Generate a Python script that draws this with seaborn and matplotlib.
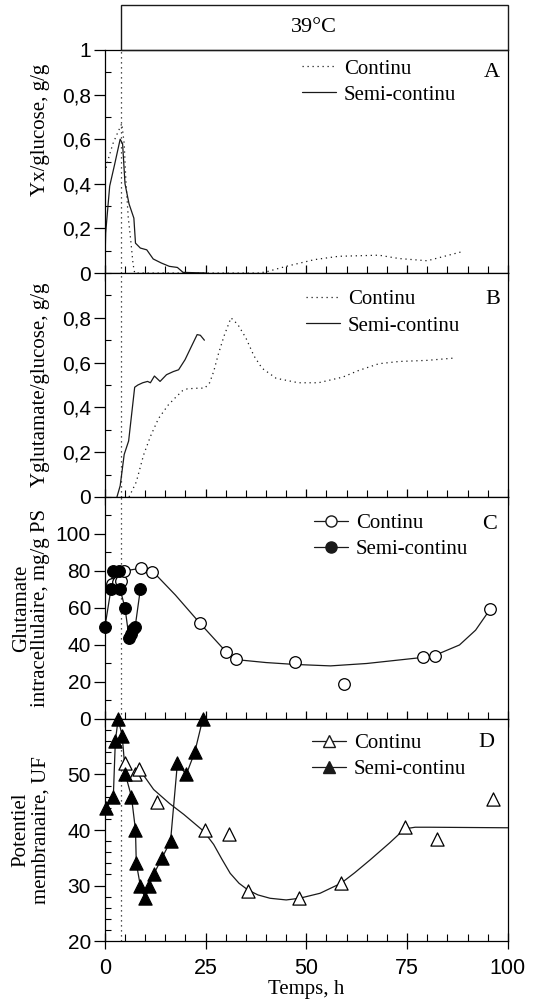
import numpy as np
import pandas as pd
import matplotlib
matplotlib.use('Agg')
import matplotlib.pyplot as plt
import seaborn as sns
from matplotlib.lines import Line2D
from matplotlib.patches import Rectangle
from matplotlib.ticker import MultipleLocator, FixedLocator

# ---------------- data ----------------
t_switch = 4.0
temp_label = "39°C"
series_names = ["Continu", "Semi-continu"]
panel_letters = ["A", "B", "C", "D"]
ylabels = ["Yx/glucose, g/g", "Yglutamate/glucose, g/g",
           "Glutamate\nintracellulaire, mg/g PS", "Potentiel\nmembranaire, UF"]
xlabel = "Temps, h"

# Panel A : Yx/glucose
a_cont_t = [0, 1, 2, 3.2, 4.2, 4.8, 5.2, 5.8, 6.4, 7.0, 7.4, 20, 38, 40, 45, 52, 58, 68, 73, 80, 88.5]
a_cont_y = [0.45, 0.52, 0.58, 0.63, 0.67, 0.58, 0.42, 0.25, 0.15, 0.04, 0.0, 0.0, 0.0, 0.005, 0.03, 0.06, 0.075, 0.08, 0.065, 0.055, 0.095]
a_semi_t = [0, 0.2, 1.2, 2.4, 3.8, 4.4, 5.0, 6.0, 7.2, 7.6, 8.8, 10.4, 12, 14, 16, 18, 19.4, 25]
a_semi_y = [0.03, 0.18, 0.39, 0.485, 0.60, 0.58, 0.40, 0.31, 0.246, 0.134, 0.112, 0.104, 0.063, 0.045, 0.03, 0.025, 0.003, 0.0]

# Panel B : Yglutamate/glucose
b_cont_t = [6.0, 7.8, 9.6, 11.3, 13.3, 15.7, 17.3, 19.3, 20.5, 23.3, 24.8, 26.0, 27.0, 28.2, 29.6, 31.3, 33, 35, 37, 39, 42.5, 48, 53, 59, 63, 68, 73, 80, 86.5]
b_cont_y = [0.0, 0.067, 0.187, 0.27, 0.35, 0.41, 0.44, 0.475, 0.483, 0.486, 0.486, 0.51, 0.56, 0.64, 0.72, 0.80, 0.77, 0.71, 0.63, 0.575, 0.53, 0.51, 0.51, 0.535, 0.565, 0.595, 0.605, 0.61, 0.62]
b_semi_t = [3.0, 3.8, 4.8, 5.9, 7.4, 8.2, 9.4, 10.6, 11.3, 12.3, 13.7, 15.3, 17, 18.3, 19.9, 21.5, 22.9, 23.7, 24.7]
b_semi_y = [0.0, 0.05, 0.19, 0.25, 0.49, 0.50, 0.51, 0.516, 0.51, 0.54, 0.516, 0.546, 0.56, 0.568, 0.613, 0.673, 0.725, 0.722, 0.70]

# Panel C : glutamate intracellulaire
c_cont_t = [1.8, 3.2, 4.0, 4.8, 9.0, 11.8, 23.5, 30, 32.5, 47.2, 59.3, 79, 82, 95.6]
c_cont_y = [73, 74, 74.5, 80, 81.5, 79.5, 52, 36, 32.5, 31, 19, 33.3, 34, 59.3]
c_fit_t = [1.8, 4.8, 9, 12, 17.5, 23.5, 30, 33, 40, 47, 56, 65, 79, 82, 88, 92, 95.6]
c_fit_y = [73, 80, 81.5, 79.5, 67, 52, 36.5, 32, 30.5, 29.5, 28.7, 30, 33.3, 34.5, 40, 48, 59.3]
c_semi_t = [0, 1.5, 1.9, 3.4, 3.8, 5.0, 6.0, 6.5, 7.0, 7.5, 8.8]
c_semi_y = [49.5, 70, 80, 80, 70, 60, 44, 46, 48.5, 49.5, 70]

# Panel D : potentiel membranaire
d_cont_t = [5.0, 7.4, 8.5, 13, 24.8, 30.7, 35.5, 48.3, 58.6, 74.4, 82.5, 96.3]
d_cont_y = [52, 50, 51, 45, 40, 39.3, 29, 27.7, 30.4, 40.5, 38.4, 45.5]
d_fit_t = [8.5, 12.1, 16, 19.6, 24.5, 27, 29, 31.1, 33.3, 35.5, 38, 41, 45, 48.3, 53.4, 58.6, 62, 65.8, 70.7, 74.4, 77, 80.6, 100]
d_fit_y = [51, 47.3, 44.8, 42.8, 39.8, 37.4, 34.8, 32.2, 30.4, 29.2, 28.3, 27.7, 27.4, 27.7, 28.6, 30.4, 32.3, 34.6, 37.7, 40.2, 40.5, 40.5, 40.4]
d_semi_t = [0.3, 2.1, 2.6, 3.3, 4.3, 5.1, 6.6, 7.6, 7.8, 8.8, 10, 11, 12.1, 14.2, 16.3, 18, 20.2, 22.3, 24.3]
d_semi_y = [44, 46, 56, 60, 57, 50, 46, 40, 34, 30, 27.7, 30, 32, 35, 38, 52, 50, 54, 60]

# ticks
x_ticks = [0, 25, 50, 75, 100]
a_ticks = [0, 0.2, 0.4, 0.6, 0.8, 1.0]
b_ticks = [0, 0.2, 0.4, 0.6, 0.8]
c_ticks = [0, 20, 40, 60, 80, 100]
d_ticks = [20, 30, 40, 50]

# ---------------- style ----------------
sns.set_theme(style='ticks', rc={
    'axes.edgecolor': 'black', 'text.color': 'black', 'axes.labelcolor': 'black',
    'xtick.color': 'black', 'ytick.color': 'black', 'axes.linewidth': 0.9})
plt.rcParams['font.family'] = ['Liberation Serif', 'DejaVu Serif']

fig = plt.figure(figsize=(5.49, 10.06), dpi=100)
L, W = 0.191, 0.734
bounds = [0.9503, 0.7286, 0.506, 0.2853, 0.0646]
axes = []
for i in range(4):
    ax = fig.add_axes([L, bounds[i + 1], W, bounds[i] - bounds[i + 1]])
    axes.append(ax)

DOT = (0, (1, 3))
LW = 0.9

def comma(v):
    return f"{v:g}".replace('.', ',')

# A
ax = axes[0]
sns.lineplot(x=a_cont_t, y=a_cont_y, ax=ax, color='k', lw=LW, linestyle=DOT, sort=False, estimator=None)
sns.lineplot(x=a_semi_t, y=a_semi_y, ax=ax, color='k', lw=LW, sort=False, estimator=None)
ax.set_ylim(0, 1)
ax.yaxis.set_major_locator(FixedLocator(a_ticks))
ax.set_yticklabels([comma(v) for v in a_ticks])
ax.yaxis.set_minor_locator(MultipleLocator(0.1))

# B
ax = axes[1]
sns.lineplot(x=b_cont_t, y=b_cont_y, ax=ax, color='k', lw=LW, linestyle=DOT, sort=False, estimator=None)
sns.lineplot(x=b_semi_t, y=b_semi_y, ax=ax, color='k', lw=LW, sort=False, estimator=None)
ax.set_ylim(0, 1)
ax.yaxis.set_major_locator(FixedLocator(b_ticks))
ax.set_yticklabels([comma(v) for v in b_ticks])
ax.yaxis.set_minor_locator(MultipleLocator(0.1))

# C
ax = axes[2]
sns.lineplot(x=c_fit_t, y=c_fit_y, ax=ax, color='k', lw=LW, sort=False, estimator=None)
sns.lineplot(x=c_semi_t, y=c_semi_y, ax=ax, color='k', lw=LW, sort=False, estimator=None)
sns.scatterplot(x=c_cont_t, y=c_cont_y, ax=ax, marker='o', s=70, facecolor='white',
                edgecolor='black', linewidth=LW, zorder=3, clip_on=False)
sns.scatterplot(x=c_semi_t, y=c_semi_y, ax=ax, marker='o', s=70, color='black',
                edgecolor='black', linewidth=LW, zorder=4, clip_on=False)
ax.set_ylim(0, 120)
ax.yaxis.set_major_locator(FixedLocator(c_ticks))
ax.set_yticklabels([str(v) for v in c_ticks])
ax.yaxis.set_minor_locator(MultipleLocator(10))

# D
ax = axes[3]
sns.lineplot(x=d_fit_t, y=d_fit_y, ax=ax, color='k', lw=LW, sort=False, estimator=None)
sns.lineplot(x=d_semi_t, y=d_semi_y, ax=ax, color='k', lw=LW, sort=False, estimator=None)
sns.scatterplot(x=d_cont_t, y=d_cont_y, ax=ax, marker='^', s=90, facecolor='white',
                edgecolor='black', linewidth=LW, zorder=3, clip_on=False)
sns.scatterplot(x=d_semi_t, y=d_semi_y, ax=ax, marker='^', s=90, color='black',
                edgecolor='black', linewidth=LW, zorder=4, clip_on=False)
ax.set_ylim(20, 60)
ax.yaxis.set_major_locator(FixedLocator(d_ticks))
ax.set_yticklabels([str(v) for v in d_ticks])
ax.yaxis.set_minor_locator(MultipleLocator(2))

# common formatting
label_y = [0.64, 0.5, 0.5, 0.5]
for i, ax in enumerate(axes):
    ax.set_xlim(0, 100)
    ax.xaxis.set_major_locator(FixedLocator(x_ticks))
    ax.xaxis.set_minor_locator(MultipleLocator(5))
    ax.axvline(t_switch, color='k', lw=LW, linestyle=DOT, zorder=1)
    ax.tick_params(axis='y', which='major', direction='out', length=8, width=0.9, labelsize=15, pad=2)
    ax.tick_params(axis='y', which='minor', direction='in', length=4, width=0.8)
    ax.tick_params(axis='x', which='major', direction='inout', length=12, width=0.9, labelsize=15.5, pad=6)
    ax.tick_params(axis='x', which='minor', direction='in', length=5, width=0.8)
    if i < 3:
        ax.tick_params(axis='x', labelbottom=False)
    ax.set_ylabel(ylabels[i], fontsize=15, linespacing=1.05)
    ax.yaxis.set_label_coords(-0.135, label_y[i])
    for lab in ax.get_yticklabels() + ax.get_xticklabels():
        lab.set_fontfamily('Liberation Sans')
    ax.set_xlabel('')

axes[3].set_xlabel(xlabel, fontsize=15, labelpad=1)
for lab in axes[3].get_xticklabels():
    lab.set_fontfamily('Liberation Sans')

# legends
line_cont = Line2D([], [], color='k', lw=LW, linestyle=DOT)
line_semi = Line2D([], [], color='k', lw=LW)
circ_cont = Line2D([], [], color='k', lw=LW, marker='o', ms=8, mfc='white', mec='k')
circ_semi = Line2D([], [], color='k', lw=LW, marker='o', ms=8, mfc='k', mec='k')
tri_cont = Line2D([], [], color='k', lw=LW, marker='^', ms=9, mfc='white', mec='k')
tri_semi = Line2D([], [], color='k', lw=LW, marker='^', ms=9, mfc='k', mec='k')
handles = [[line_cont, line_semi], [line_cont, line_semi], [circ_cont, circ_semi], [tri_cont, tri_semi]]
leg_anchor = [(0.49, 0.96), (0.50, 0.925), (0.52, 0.925), (0.515, 0.935)]
letter_pos = [(0.96, 0.90), (0.963, 0.88), (0.955, 0.874), (0.948, 0.896)]
for i, ax in enumerate(axes):
    ax.legend(handles[i], series_names, loc='upper left', bbox_to_anchor=leg_anchor[i],
              frameon=False, fontsize=15, handlelength=1.6, handletextpad=0.4,
              labelspacing=0.32, borderpad=0, borderaxespad=0)
    ax.text(letter_pos[i][0], letter_pos[i][1], panel_letters[i], transform=ax.transAxes,
            ha='center', va='center', fontsize=16)

# temperature box
ax_t = fig.add_axes([L, bounds[0], W, 0.995 - bounds[0]])
ax_t.set_xlim(0, 100)
ax_t.set_ylim(0, 1)
ax_t.axis('off')
ax_t.add_patch(Rectangle((t_switch, 0), 100 - t_switch, 1, fill=False, lw=1.0, ec='k', clip_on=False))
ax_t.text((t_switch + 100) / 2, 0.5, temp_label, ha='center', va='center', fontsize=16)

fig.savefig('out.png', dpi=100)
